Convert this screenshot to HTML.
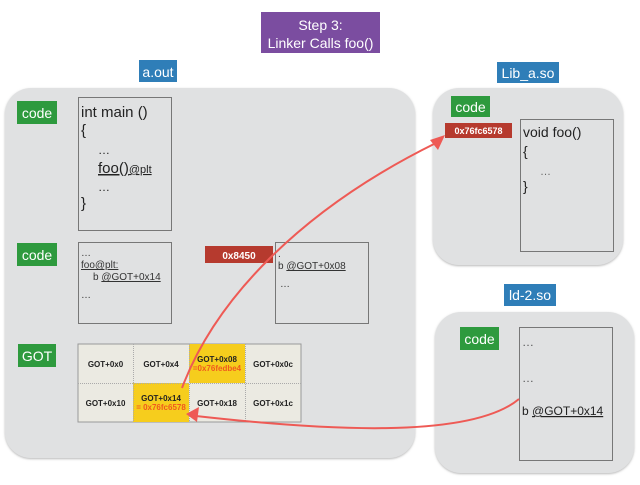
<!DOCTYPE html>
<html><head><meta charset="utf-8"><style>
body{margin:0;background:#fff;width:640px;height:480px;overflow:hidden;font-family:"Liberation Sans",sans-serif}
</style></head><body>
<svg width="640" height="480" xmlns="http://www.w3.org/2000/svg" font-family="Liberation Sans, sans-serif">
<defs>
<filter id="sh" x="-5%" y="-5%" width="110%" height="110%"><feDropShadow dx="0" dy="1" stdDeviation="1" flood-color="#888" flood-opacity="0.6"/></filter>
</defs>
<rect x="5" y="88" width="410" height="370" rx="26" fill="#e0e1e2" filter="url(#sh)"/>
<rect x="433" y="88" width="190" height="177" rx="26" fill="#e0e1e2" filter="url(#sh)"/>
<rect x="435" y="312" width="199" height="161" rx="26" fill="#e0e1e2" filter="url(#sh)"/>
<rect x="261" y="12" width="119" height="41" fill="#7b4da0"/>
<text x="320.5" y="30" fill="#fff" font-size="14" text-anchor="middle">Step 3:</text>
<text x="320.5" y="48" fill="#fff" font-size="14" text-anchor="middle">Linker Calls foo()</text>
<rect x="139" y="60" width="38" height="22" fill="#2f7eb8"/>
<text x="158" y="77" fill="#fff" font-size="14" text-anchor="middle">a.out</text>
<rect x="497" y="62" width="62" height="21" fill="#2f7eb8"/>
<text x="528" y="78" fill="#fff" font-size="14" text-anchor="middle">Lib_a.so</text>
<rect x="504" y="284" width="52" height="22" fill="#2f7eb8"/>
<text x="530" y="300" fill="#fff" font-size="14" text-anchor="middle">ld-2.so</text>
<g font-size="14" fill="#fff" text-anchor="middle">
<rect x="17" y="101" width="40" height="23" fill="#2e9a3e"/><text x="37" y="118">code</text>
<rect x="17" y="243" width="40" height="23" fill="#2e9a3e"/><text x="37" y="260">code</text>
<rect x="18" y="344" width="38" height="23" fill="#2e9a3e"/><text x="37" y="361">GOT</text>
<rect x="451" y="96" width="39" height="21" fill="#2e9a3e"/><text x="470.5" y="112">code</text>
<rect x="460" y="327" width="39" height="23" fill="#2e9a3e"/><text x="479.5" y="344">code</text>
</g>
<g fill="none" stroke="#777" stroke-width="1">
<rect x="78.5" y="97.5" width="93" height="133"/>
<rect x="78.5" y="242.5" width="93" height="81"/>
<rect x="275.5" y="242.5" width="93" height="81"/>
<rect x="520.5" y="119.5" width="93" height="132"/>
<rect x="519.5" y="327.5" width="93" height="133"/>
</g>
<g fill="#222" font-size="15">
<text x="81" y="117">int main ()</text>
<text x="81" y="135">{</text>
<text x="98" y="154" font-size="12">…</text>
<text x="98" y="173" text-decoration="underline">foo()<tspan font-size="11">@plt</tspan></text>
<text x="98" y="191" font-size="12">…</text>
<text x="81" y="208">}</text>
</g>
<g fill="#333" font-size="10">
<text x="81" y="256">…</text>
<text x="81" y="268" text-decoration="underline">foo@plt:</text>
<text x="93" y="280">b <tspan text-decoration="underline">@GOT+0x14</tspan></text>
<text x="81" y="298">…</text>
<text x="278" y="257">.</text>
<text x="278" y="269">b <tspan text-decoration="underline">@GOT+0x08</tspan></text>
<text x="280" y="287">…</text>
</g>
<rect x="205" y="246" width="68" height="17" fill="#b63a2e"/>
<text x="239" y="259" fill="#fff" font-size="10" font-weight="bold" text-anchor="middle">0x8450</text>
<rect x="445" y="123" width="67" height="15" fill="#b63a2e"/>
<text x="478.5" y="134" fill="#fff" font-size="9" font-weight="bold" text-anchor="middle">0x76fc6578</text>
<g fill="#222" font-size="14">
<text x="523" y="137">void foo()</text>
<text x="523" y="156">{</text>
<text x="540" y="175" font-size="11" fill="#666">…</text>
<text x="523" y="191">}</text>
</g>
<g fill="#555" font-size="12">
<text x="522" y="346">…</text>
<text x="522" y="382">…</text>
<text x="522" y="415" fill="#222">b <tspan text-decoration="underline">@GOT+0x14</tspan></text>
</g>
<rect x="78" y="344" width="223" height="78" fill="#ebeae2" stroke="#999"/>
<rect x="189" y="344" width="56" height="39" fill="#f6cd1d"/>
<rect x="133" y="383" width="56" height="39" fill="#f6cd1d"/>
<g stroke="#aaa" stroke-dasharray="1,1">
<line x1="133.5" y1="344" x2="133.5" y2="422"/><line x1="189.5" y1="344" x2="189.5" y2="422"/><line x1="245.5" y1="344" x2="245.5" y2="422"/><line x1="78" y1="383.5" x2="301" y2="383.5"/>
</g>
<g font-size="8" font-weight="bold" fill="#222" text-anchor="middle">
<text x="105.5" y="367">GOT+0x0</text><text x="161" y="367">GOT+0x4</text><text x="217" y="362">GOT+0x08</text><text x="273" y="367">GOT+0x0c</text>
<text x="105.5" y="406">GOT+0x10</text><text x="161" y="401">GOT+0x14</text><text x="217" y="406">GOT+0x18</text><text x="273" y="406">GOT+0x1c</text>
</g>
<g font-size="8" font-weight="bold" fill="#f05a1e" text-anchor="middle">
<text x="217" y="371">=0x76fedbe4</text><text x="161" y="410">= 0x76fc6578</text>
</g>
<g stroke="#ee5a55" stroke-width="2" fill="none">
<path d="M182 388 C215 300 300 210 436 143"/>
<path d="M519 399 C470 440 320 430 196 416"/>
</g>
<polygon points="445,135 430,140 438,150" fill="#ee5a55"/>
<polygon points="186,414 199,407 197,422" fill="#ee5a55"/>
</svg>
</body></html>
